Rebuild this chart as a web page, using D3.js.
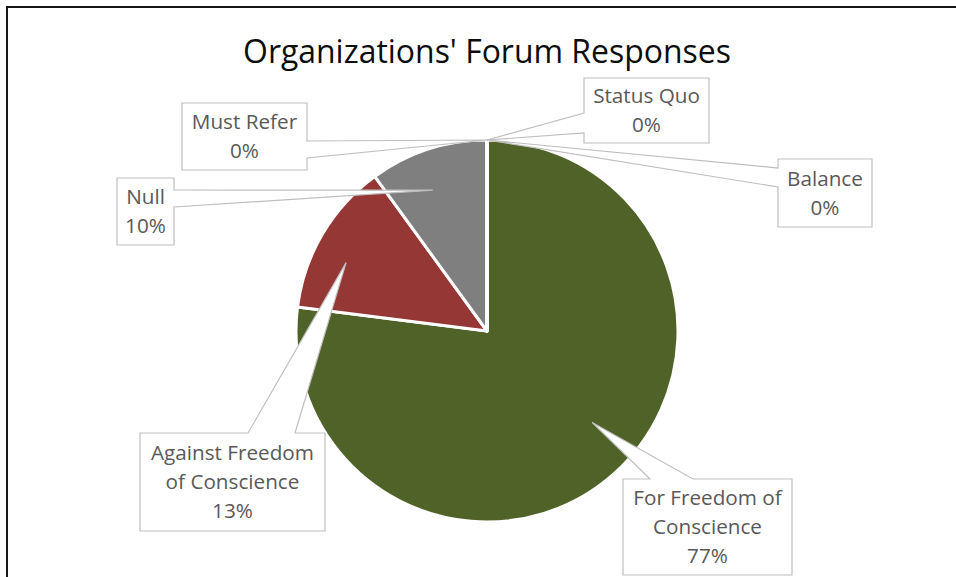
<!DOCTYPE html>
<html>
<head>
<meta charset="utf-8">
<script src="https://cdn.jsdelivr.net/npm/d3@7"></script>
<style>
  body { margin: 0; background: #fff; }
  svg { display: block; }
</style>
</head>
<body>
<div id="chart"></div>
<script>
// Data
const categories = ["For Freedom of Conscience", "Against Freedom of Conscience", "Null", "Must Refer", "Status Quo", "Balance"];
const percents = [77, 13, 10, 0, 0, 0];
const labelLines = [["For Freedom of", "Conscience"], ["Against Freedom", "of Conscience"], ["Null"], ["Must Refer"], ["Status Quo"], ["Balance"]];
const sliceColors = ["#4f6228", "#953735", "#7f7f7f", "#4f81bd", "#c0504d", "#9bbb59"];

// Callout layout: box, side of the pointer, pointer base span, tip tweak
const callouts = [
  { x: 623, y: 479, w: 169, h: 96, side: "top", b0: 650, b1: 693, rf: 0.73, da: -7.6 },
  { x: 140, y: 433, w: 185, h: 98, side: "top", b0: 248, b1: 295, rf: 0.82, da: -4.7 },
  { x: 117, y: 178, w: 57, h: 67, side: "right", b0: 190, b1: 207, rf: 0.79, da: -3 },
  { x: 182, y: 103, w: 125, h: 67, side: "right", b0: 141, b1: 158, rf: 1, da: 0 },
  { x: 584, y: 78, w: 125, h: 65, side: "left", b0: 113, b1: 133, rf: 1, da: 0 },
  { x: 778, y: 159, w: 94, h: 68, side: "left", b0: 168, b1: 187, rf: 1, da: 0 }
];

const width = 956, height = 577;
const cx = 487, cy = 331, radius = 191;

const svg = d3.select("#chart").append("svg")
  .attr("width", width)
  .attr("height", height);

svg.append("rect")
  .attr("width", width).attr("height", height)
  .attr("fill", "#fff");

// frame (right and bottom edges fall outside the picture)
svg.append("rect")
  .attr("x", 7).attr("y", 7)
  .attr("width", 960).attr("height", 620)
  .attr("fill", "none")
  .attr("stroke", "#161616")
  .attr("stroke-width", 2);

// fit a text to a given width
function fitSize(family, text, target) {
  const t = svg.append("text")
    .style("font-family", family)
    .style("font-size", "100px")
    .text(text);
  const len = t.node().getComputedTextLength();
  t.remove();
  return 100 * target / len;
}

const font = "'Open Sans', Lato, sans-serif";

const titleSize = fitSize(font, "Organizations' Forum Responses", 488);
svg.append("text")
  .attr("x", cx)
  .attr("y", 63)
  .attr("text-anchor", "middle")
  .style("font-family", font)
  .style("font-size", titleSize + "px")
  .style("fill", "#0d0d0d")
  .text("Organizations' Forum Responses");

// pie
const pie = d3.pie().sort(null).value(d => d);
const arcs = pie(percents);
const arc = d3.arc().innerRadius(0).outerRadius(radius);

const pieGroup = svg.append("g")
  .attr("transform", `translate(${cx},${cy})`);

pieGroup.selectAll("path")
  .data(arcs)
  .enter()
  .append("path")
  .attr("d", arc)
  .style("fill", (d, i) => sliceColors[i])
  .style("stroke", "#fff")
  .style("stroke-width", 3)
  .style("stroke-linejoin", "round");

// callouts
function calloutPath(c, tip) {
  const x0 = c.x, y0 = c.y, x1 = c.x + c.w, y1 = c.y + c.h;
  let pts;
  if (c.side === "top") {
    pts = [[x0, y0], [c.b0, y0], tip, [c.b1, y0], [x1, y0], [x1, y1], [x0, y1]];
  } else if (c.side === "right") {
    pts = [[x0, y0], [x1, y0], [x1, c.b0], tip, [x1, c.b1], [x1, y1], [x0, y1]];
  } else {
    pts = [[x0, y0], [x1, y0], [x1, y1], [x0, y1], [x0, c.b1], tip, [x0, c.b0]];
  }
  return "M" + pts.map(p => p.join(",")).join("L") + "Z";
}

const labelSize = fitSize(font, "Against Freedom", 163);
const lineGap = 29;

const labelGroup = svg.append("g");

arcs.forEach((a, i) => {
  const c = callouts[i];
  const ang = (a.startAngle + a.endAngle) / 2 + c.da * Math.PI / 180;
  const r = radius * c.rf;
  const tip = [cx + r * Math.sin(ang), cy - r * Math.cos(ang)];

  labelGroup.append("path")
    .attr("d", calloutPath(c, tip))
    .style("fill", "#fff")
    .style("stroke", "#bfbfbf")
    .style("stroke-width", 1.2)
    .style("stroke-linejoin", "miter");

  const lines = labelLines[i].concat([d3.format(".0f")(percents[i]) + "%"]);
  const midY = c.y + c.h / 2;
  const top = midY - (lines.length - 1) * lineGap / 2;
  const txt = labelGroup.append("text")
    .attr("text-anchor", "middle")
    .style("font-family", font)
    .style("font-size", labelSize + "px")
    .style("fill", "#595959");
  lines.forEach((ln, k) => {
    txt.append("tspan")
      .attr("x", c.x + c.w / 2)
      .attr("y", top + k * lineGap)
      .attr("dy", "0.35em")
      .text(ln);
  });
});
</script>
</body>
</html>
